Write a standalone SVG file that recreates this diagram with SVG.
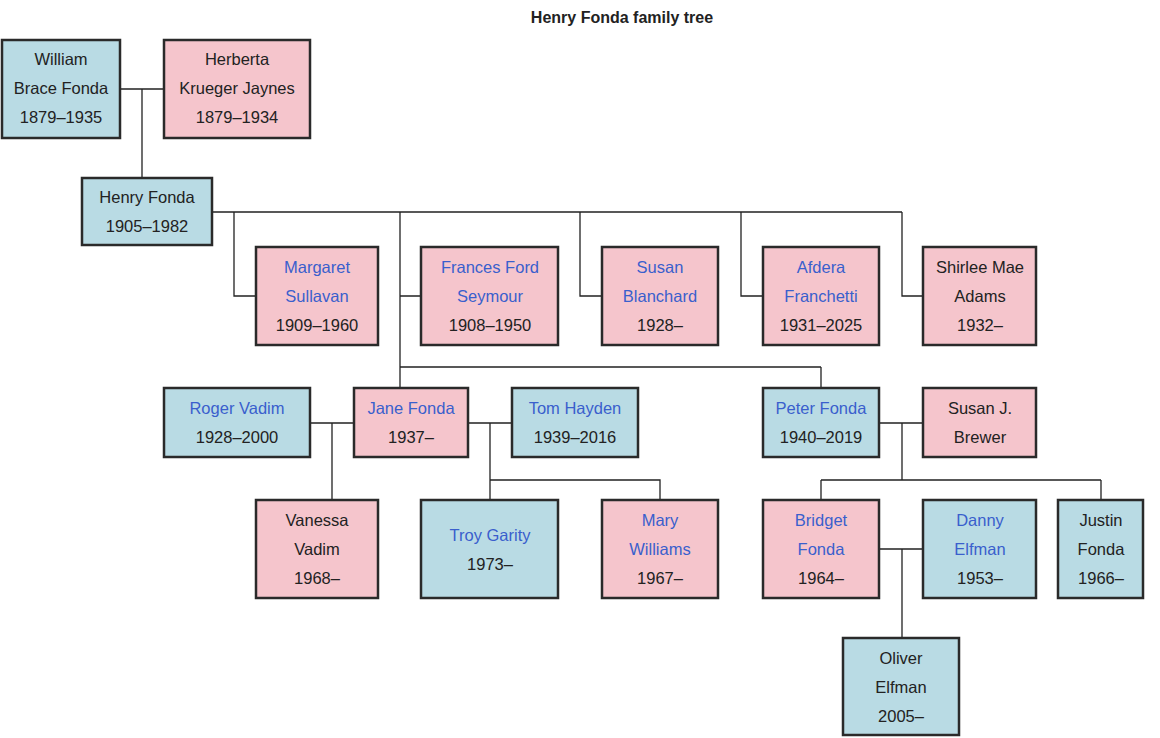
<svg xmlns="http://www.w3.org/2000/svg" width="1160" height="738" viewBox="0 0 1160 738">
<style>
.b{fill:#b9dbe4;stroke:#2a2a2a;stroke-width:2.5}
.p{fill:#f5c5cc;stroke:#2a2a2a;stroke-width:2.5}
text{font-family:"Liberation Sans",Arial,sans-serif;font-size:16.5px;text-anchor:middle;fill:#222}
.l{fill:#3a5fcd}
.c{fill:none;stroke:#222;stroke-width:1.3}
</style>
<rect width="1160" height="738" fill="#fff"/>
<text x="622" y="23" style="font-weight:bold;font-size:16px">Henry Fonda family tree</text>
<g id="connectors" class="c">
<path d="M120 89H164M142 89V178"/>
<path d="M212 212H902M234 212V296H256M400 212V367M400 296H421M580 212V296H602M741 212V296H763M902 212V296H923"/>
<path d="M400 367H821M400 367V388M821 367V388"/>
<path d="M310 423H354M332 423V500"/>
<path d="M468 423H512M490 423V480H660V500M490 480V500"/>
<path d="M879 423H923M902 423V480M821 480H1101M821 480V500M1101 480V500"/>
<path d="M879 549H923M902 549V638"/>
</g>
<g id="william"><rect class="b" x="2" y="40" width="118" height="98"/><text x="61" y="65">William</text><text x="61" y="94">Brace Fonda</text><text x="61" y="123">1879–1935</text></g>
<g id="herberta"><rect class="p" x="164" y="40" width="146" height="98"/><text x="237" y="65">Herberta</text><text x="237" y="94">Krueger Jaynes</text><text x="237" y="123">1879–1934</text></g>
<g id="henry"><rect class="b" x="82" y="178" width="130" height="67"/><text x="147" y="203">Henry Fonda</text><text x="147" y="232">1905–1982</text></g>
<g id="margaret"><rect class="p" x="256" y="247" width="122" height="98"/><text class="l" x="317" y="273">Margaret</text><text class="l" x="317" y="302">Sullavan</text><text x="317" y="331">1909–1960</text></g>
<g id="frances"><rect class="p" x="421" y="247" width="137" height="98"/><text class="l" x="490" y="273">Frances Ford</text><text class="l" x="490" y="302">Seymour</text><text x="490" y="331">1908–1950</text></g>
<g id="susanb"><rect class="p" x="602" y="247" width="116" height="98"/><text class="l" x="660" y="273">Susan</text><text class="l" x="660" y="302">Blanchard</text><text x="660" y="331">1928–</text></g>
<g id="afdera"><rect class="p" x="763" y="247" width="116" height="98"/><text class="l" x="821" y="273">Afdera</text><text class="l" x="821" y="302">Franchetti</text><text x="821" y="331">1931–2025</text></g>
<g id="shirlee"><rect class="p" x="923" y="247" width="113" height="98"/><text x="980" y="273">Shirlee Mae</text><text x="980" y="302">Adams</text><text x="980" y="331">1932–</text></g>
<g id="roger"><rect class="b" x="164" y="388" width="146" height="69"/><text class="l" x="237" y="414">Roger Vadim</text><text x="237" y="443">1928–2000</text></g>
<g id="jane"><rect class="p" x="354" y="388" width="114" height="69"/><text class="l" x="411" y="414">Jane Fonda</text><text x="411" y="443">1937–</text></g>
<g id="tom"><rect class="b" x="512" y="388" width="126" height="69"/><text class="l" x="575" y="414">Tom Hayden</text><text x="575" y="443">1939–2016</text></g>
<g id="peter"><rect class="b" x="763" y="388" width="116" height="69"/><text class="l" x="821" y="414">Peter Fonda</text><text x="821" y="443">1940–2019</text></g>
<g id="susanj"><rect class="p" x="923" y="388" width="113" height="69"/><text x="980" y="414">Susan J.</text><text x="980" y="443">Brewer</text></g>
<g id="vanessa"><rect class="p" x="256" y="500" width="122" height="98"/><text x="317" y="526">Vanessa</text><text x="317" y="555">Vadim</text><text x="317" y="584">1968–</text></g>
<g id="troy"><rect class="b" x="421" y="500" width="137" height="98"/><text class="l" x="490" y="541">Troy Garity</text><text x="490" y="570">1973–</text></g>
<g id="mary"><rect class="p" x="602" y="500" width="116" height="98"/><text class="l" x="660" y="526">Mary</text><text class="l" x="660" y="555">Williams</text><text x="660" y="584">1967–</text></g>
<g id="bridget"><rect class="p" x="763" y="500" width="116" height="98"/><text class="l" x="821" y="526">Bridget</text><text class="l" x="821" y="555">Fonda</text><text x="821" y="584">1964–</text></g>
<g id="danny"><rect class="b" x="923" y="500" width="113" height="98"/><text class="l" x="980" y="526">Danny</text><text class="l" x="980" y="555">Elfman</text><text x="980" y="584">1953–</text></g>
<g id="justin"><rect class="b" x="1058" y="500" width="85" height="98"/><text x="1101" y="526">Justin</text><text x="1101" y="555">Fonda</text><text x="1101" y="584">1966–</text></g>
<g id="oliver"><rect class="b" x="843" y="638" width="116" height="97"/><text x="901" y="664">Oliver</text><text x="901" y="693">Elfman</text><text x="901" y="722">2005–</text></g>
</svg>
